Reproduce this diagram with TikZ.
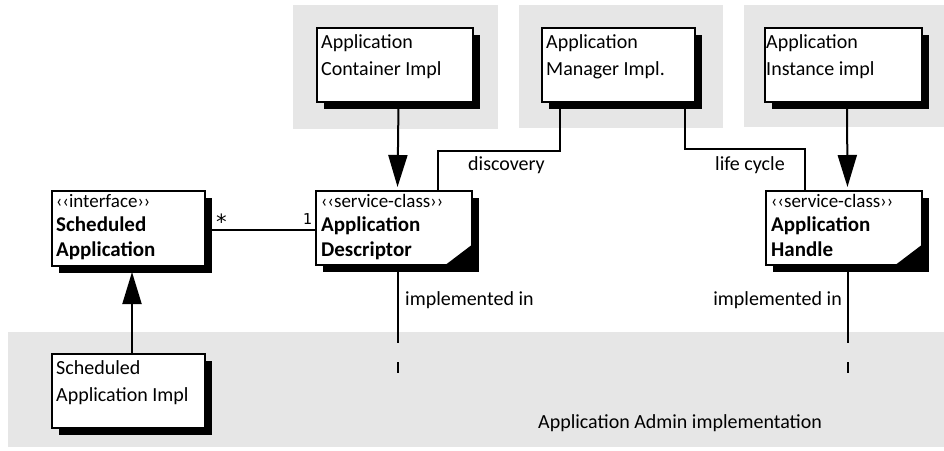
\documentclass[tikz,border=0pt]{standalone}
\usepackage{fontspec}
\setmainfont{Carlito}
\newfontfamily\monofnt{DejaVu Sans Mono}
\usetikzlibrary{arrows.meta,shadows}
\definecolor{regiongray}{RGB}{230,230,230}
\begin{document}
\begin{tikzpicture}[x=1pt,y=-1pt,
  region/.style={fill=regiongray, draw=none},
  umlbox/.style={draw=black, line width=2pt, fill=white, inner sep=0pt, anchor=north west,
     drop shadow={fill=black, opacity=1, shadow xshift=7pt, shadow yshift=-7pt}},
  conn/.style={line width=2pt, draw=black},
  realize/.style={conn, -{Triangle[length=32pt,width=19pt]}},
  stereo/.style={font=\fontsize{19}{20}\selectfont, inner sep=0pt, anchor=base west},
  cname/.style={font=\bfseries\fontsize{21}{24}\selectfont, inner sep=0pt, anchor=base west},
  lbl/.style={font=\fontsize{20}{24}\selectfont, inner sep=0pt, anchor=base west},
  mult/.style={font=\monofnt\fontsize{15}{16}\selectfont, inner sep=0pt},
]
\useasboundingbox (0,0) rectangle (944,450);

% grey regions
\fill[region] (293,5) rectangle (498,129);
\fill[region] (519,5) rectangle (723,128);
\fill[region] (744,5) rectangle (944,127);
\fill[region] (8,332) rectangle (944,447);

% boxes
\node[umlbox, minimum width=156pt, minimum height=74pt] (cont) at (316,27) {};
\node[umlbox, minimum width=153pt, minimum height=74pt] (mgr)  at (541,27) {};
\node[umlbox, minimum width=157pt, minimum height=74pt] (inst) at (764,27) {};
\node[umlbox, minimum width=153pt, minimum height=75pt] (sa)   at (51,190) {};
\node[umlbox, minimum width=156pt, minimum height=74pt] (desc) at (315,190) {};
\node[umlbox, minimum width=156pt, minimum height=74pt] (hdl)  at (765,190) {};
\node[umlbox, minimum width=153pt, minimum height=74pt] (impl) at (51,353) {};

% folded corners
\fill[black] ([xshift=-29pt]desc.south east) -- (desc.south east) -- ([yshift=22pt]desc.south east) -- cycle;
\fill[black] ([xshift=-29pt]hdl.south east) -- (hdl.south east) -- ([yshift=22pt]hdl.south east) -- cycle;

% box texts
\node[lbl] (cont1) at (321,48) {Application};
\node[lbl] (cont2) at (321,75) {Container Impl};
\node[lbl] (mgr1) at (546,48) {Application};
\node[lbl] (mgr2) at (546,75) {Manager Impl.};
\node[lbl] (inst1) at (766,48) {Application};
\node[lbl] (inst2) at (766,75) {Instance impl};
\node[lbl] (impl1) at (56,374) {Scheduled};
\node[lbl] (impl2) at (56,401) {Application Impl};

\node[stereo] (sa0) at (56,207) {‹‹interface››};
\node[cname] (sa1) at (56,231) {Scheduled};
\node[cname] (sa2) at (56,256) {Application};
\node[stereo] (desc0) at (321,207) {‹‹service-class››};
\node[cname] (desc1) at (321,231) {Application};
\node[cname] (desc2) at (321,256) {Descriptor};
\node[stereo] (hdl0) at (771,207) {‹‹service-class››};
\node[cname] (hdl1) at (771,231) {Application};
\node[cname] (hdl2) at (771,256) {Handle};

% connectors
\draw[realize, shorten >=3pt] ([xshift=3.5pt]cont.south) -- ([xshift=3.5pt]desc.north);
\draw[realize, shorten >=3pt] ([xshift=3.5pt]inst.south) -- ([xshift=3.5pt]hdl.north);
\draw[realize] ([xshift=3.5pt]impl.north) -- ([xshift=3.5pt,yshift=-5pt]sa.south);

\coordinate (dsrc) at ([xshift=19pt]mgr.south west);
\coordinate (ddst) at ([xshift=123pt]desc.north west);
\draw[conn] (dsrc) -- ++(0,48) -| (ddst);
\coordinate (lsrc) at ([xshift=-11pt]mgr.south east);
\coordinate (ldst) at ([xshift=40pt]hdl.north west);
\draw[conn] (lsrc) -- ++(0,46) -| (ldst);
\node[lbl] (disc) at (468,170) {discovery};
\node[lbl] (life) at (715,170) {life cycle};

\draw[conn] (sa.east |- 0,230) -- (desc.west |- 0,230);
\node[mult, font=\monofnt\fontsize{21}{22}\selectfont, anchor=base west] (m1) at (215,229) {*};
\node[mult, anchor=base east] (m2) at (312,224) {1};

% implemented in
\coordinate (dimp1) at ([xshift=3.5pt]desc.south);
\coordinate (dimp2) at (dimp1 |- 0,343);
\draw[conn] (dimp1) -- (dimp2);
\coordinate (dd1) at (dimp1 |- 0,362);
\coordinate (dd2) at (dimp1 |- 0,373);
\draw[conn] (dd1) -- (dd2);
\coordinate (himp1) at ([xshift=3.5pt]hdl.south);
\coordinate (himp2) at (himp1 |- 0,343);
\draw[conn] (himp1) -- (himp2);
\coordinate (hd1) at (himp1 |- 0,362);
\coordinate (hd2) at (himp1 |- 0,373);
\draw[conn] (hd1) -- (hd2);
\node[lbl] (dimpl) at (405,305) {implemented in};
\node[lbl, anchor=base east] (himpl) at (842,305) {implemented in};

\node[lbl] (admin) at (538,428) {Application Admin implementation};
\end{tikzpicture}
\end{document}
